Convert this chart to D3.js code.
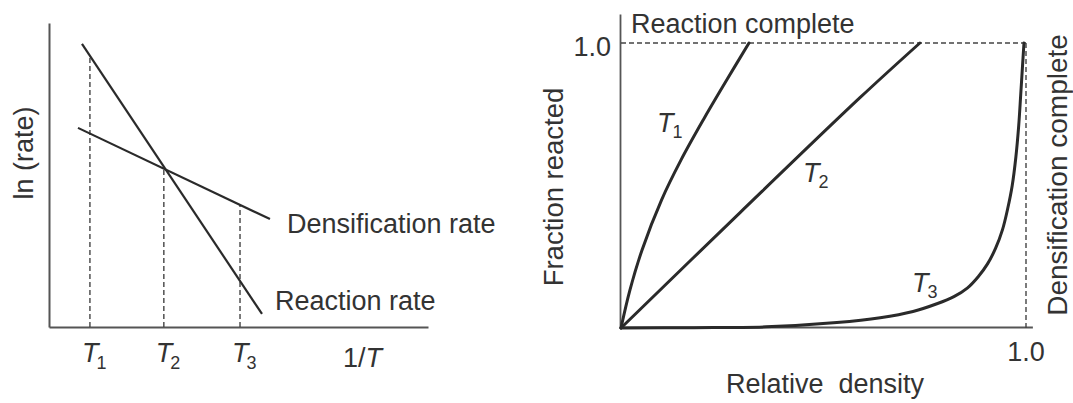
<!DOCTYPE html>
<html>
<head>
<meta charset="utf-8">
<script src="https://cdn.jsdelivr.net/npm/d3@7"></script>
<style>
  body { margin: 0; background: #fff; }
  text { font-family: "Liberation Sans", Arial, Helvetica, sans-serif; fill: #333; }
</style>
</head>
<body>
<svg id="chart" width="1073" height="403"></svg>
<script>
// ---- Left panel: ln(rate) versus 1/T (schematic, unitless 0..1) ----
const reactionRate      = [{x: 0.087, y: 0.931}, {x: 0.562, y: 0.043}];
const densificationRate = [{x: 0.0765, y: 0.655}, {x: 0.583, y: 0.355}];
const tempTicks   = [0.108, 0.303, 0.504];
const tempLabels  = ["1", "2", "3"];
const rateLabels  = ["Reaction rate", "Densification rate"];

// ---- Right panel: fraction reacted versus relative density ----
const curveT1 = [[0, 0], [0.022, 0.133], [0.052, 0.274], [0.100, 0.449], [0.148, 0.589],
                 [0.203, 0.730], [0.261, 0.870], [0.316, 1.0]];
const curveT2 = [[0, 0], [0.294, 0.405], [0.590, 0.808], [0.738, 1.0]];
const curveT3 = [[0, 0], [0.18, 0.001], [0.358, 0.004], [0.533, 0.019], [0.640, 0.036],
                 [0.721, 0.058], [0.780, 0.085], [0.822, 0.110], [0.855, 0.140],
                 [0.882, 0.180], [0.905, 0.225], [0.925, 0.280], [0.942, 0.345],
                 [0.955, 0.420], [0.966, 0.500], [0.975, 0.600], [0.982, 0.710],
                 [0.987, 0.820], [0.991, 0.910], [0.995, 1.0]];
const curveNames   = ["1", "2", "3"];
const rightXExtent = [0, 1.017];
const rightYExtent = [0, 1.1];
const completeLevel = 1.0;

const svg = d3.select("#chart");
const ink = "#2a2a2a";
const axisInk = "#555";

// ===== Left panel =====
const xL = d3.scaleLinear().domain([0, 1]).range([49, 428]);
const yL = d3.scaleLinear().domain([0, 1]).range([327, 23]);
const left = svg.append("g");

const axB = left.append("g").attr("transform", `translate(0,${yL(0)})`)
  .call(d3.axisBottom(xL).tickValues([]).tickSizeOuter(0));
const axL = left.append("g").attr("transform", `translate(${xL(0)},0)`)
  .call(d3.axisLeft(yL).tickValues([]).tickSizeOuter(0));
[axB, axL].forEach(a => a.select(".domain").attr("stroke", axisInk).attr("stroke-width", 2));

const valAt = (seg, x) => seg[0].y + (seg[1].y - seg[0].y) * (x - seg[0].x) / (seg[1].x - seg[0].x);

// dashed guides from the axis up to the upper of the two lines
left.selectAll("line.guide").data(tempTicks).join("line")
  .attr("x1", d => xL(d)).attr("x2", d => xL(d))
  .attr("y1", yL(0))
  .attr("y2", d => yL(Math.max(valAt(reactionRate, d), valAt(densificationRate, d))))
  .attr("stroke", "#444").attr("stroke-width", 1.4).attr("stroke-dasharray", "5,3");

const lineL = d3.line().x(d => xL(d.x)).y(d => yL(d.y));
left.selectAll("path.rate").data([reactionRate, densificationRate]).join("path")
  .attr("d", lineL).attr("fill", "none").attr("stroke", ink).attr("stroke-width", 2.2);

left.append("text").attr("x", 275).attr("y", 310).attr("font-size", 27).text(rateLabels[0]);
left.append("text").attr("x", 287).attr("y", 233).attr("font-size", 27).text(rateLabels[1]);

const tl = left.selectAll("text.tl").data(tempTicks).join("text")
  .attr("x", d => xL(d) - 8).attr("y", 362).attr("font-size", 27);
tl.append("tspan").attr("font-style", "italic").text("T");
tl.append("tspan").attr("font-size", 18).attr("dx", -2).attr("dy", 7).text((d, i) => tempLabels[i]);

const inv = left.append("text").attr("x", 343).attr("y", 367).attr("font-size", 27);
inv.append("tspan").text("1/");
inv.append("tspan").attr("font-style", "italic").text("T");

left.append("text").attr("transform", "translate(33,153) rotate(-90)")
  .attr("text-anchor", "middle").attr("font-size", 27).text("ln (rate)");

// ===== Right panel =====
const xR = d3.scaleLinear().domain([0, 1]).range([621, 1026]);
const yR = d3.scaleLinear().domain([0, 1]).range([328, 43]);
const right = svg.append("g");

right.append("line")
  .attr("x1", xR(rightXExtent[0])).attr("x2", xR(rightXExtent[1]))
  .attr("y1", yR(0) - 0.5).attr("y2", yR(0) - 0.5)
  .attr("stroke", axisInk).attr("stroke-width", 1.8);
right.append("line")
  .attr("x1", xR(0) - 0.5).attr("x2", xR(0) - 0.5)
  .attr("y1", yR(rightYExtent[0])).attr("y2", yR(rightYExtent[1]))
  .attr("stroke", axisInk).attr("stroke-width", 1.8);

// completion guides
right.append("line")
  .attr("x1", xR(0)).attr("x2", xR(completeLevel))
  .attr("y1", yR(completeLevel)).attr("y2", yR(completeLevel))
  .attr("stroke", "#444").attr("stroke-width", 1.4).attr("stroke-dasharray", "5,3");
right.append("line")
  .attr("x1", xR(completeLevel)).attr("x2", xR(completeLevel))
  .attr("y1", yR(completeLevel)).attr("y2", yR(0))
  .attr("stroke", "#444").attr("stroke-width", 1.4).attr("stroke-dasharray", "5,3");

const lineR = d3.line().x(d => xR(d[0])).y(d => yR(d[1])).curve(d3.curveCatmullRom.alpha(0.5));
right.selectAll("path.frac").data([curveT1, curveT2, curveT3]).join("path")
  .attr("d", lineR).attr("fill", "none").attr("stroke", ink).attr("stroke-width", 3)
  .attr("stroke-linecap", "round");

const curveLabelPos = [[657, 132], [803, 182], [912, 292]];
const cl = right.selectAll("text.cl").data(curveNames).join("text")
  .attr("x", (d, i) => curveLabelPos[i][0]).attr("y", (d, i) => curveLabelPos[i][1])
  .attr("font-size", 27);
cl.append("tspan").attr("font-style", "italic").text("T");
cl.append("tspan").attr("font-size", 18).attr("dx", -1).attr("dy", 6).text(d => d);

right.append("text").attr("x", xR(0) - 10).attr("y", yR(completeLevel) + 13)
  .attr("text-anchor", "end").attr("font-size", 27).text(d3.format(".1f")(completeLevel));
right.append("text").attr("x", xR(completeLevel)).attr("y", 361)
  .attr("text-anchor", "middle").attr("font-size", 27).text(d3.format(".1f")(completeLevel));

right.append("text").attr("x", 631).attr("y", 33).attr("font-size", 27).text("Reaction complete");
right.append("text").attr("x", 825).attr("y", 393).attr("text-anchor", "middle")
  .attr("font-size", 27).style("white-space", "pre").text("Relative  density");
right.append("text").attr("transform", "translate(563,187) rotate(-90)")
  .attr("text-anchor", "middle").attr("font-size", 27.5).text("Fraction reacted");
right.append("text").attr("transform", "translate(1067,175) rotate(-90)")
  .attr("text-anchor", "middle").attr("font-size", 28).text("Densification complete");
</script>
</body>
</html>
